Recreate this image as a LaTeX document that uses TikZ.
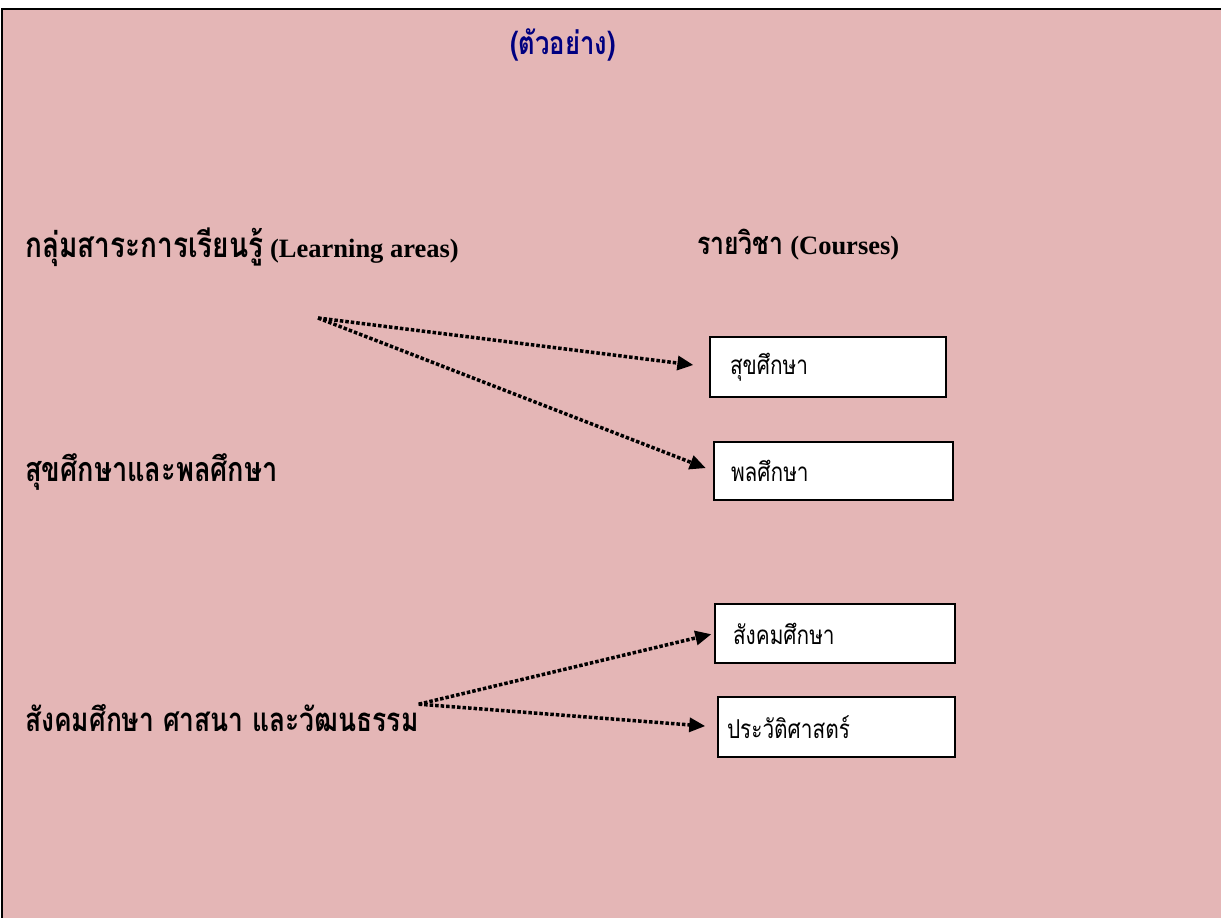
\documentclass[tikz,border=0pt]{standalone}
\usepackage{fontspec}
\setmainfont{Liberation Serif}
\newfontfamily\thaifont[Script=Thai, FakeStretch=0.8]{Loma}
\usetikzlibrary{arrows.meta}
\definecolor{bg_pink}{RGB}{228,182,182}
\definecolor{title_navy}{RGB}{0,0,128}

\begin{document}
\begin{tikzpicture}[x=1pt,y=-1pt,
    area_label/.style={anchor=west, inner sep=0pt, font=\bfseries\fontsize{26.5}{30}\selectfont},
    thai_label/.style={area_label, font=\bfseries\thaifont\fontsize{34}{38}\selectfont},
    course_box/.style={draw=black, line width=1.5pt, fill=white, inner xsep=20pt, align=left, minimum height=60pt, font=\thaifont\fontsize{26}{28}\selectfont},
    dot_arrow/.style={line width=3.5pt, dash pattern=on 3.5pt off 2pt, -{Triangle[length=16pt,width=14pt]}}]
    \useasboundingbox (0,0) rectangle (1221,918);
    % Background and frame
    \fill[white] (0,0) rectangle (1221,918);
    \fill[bg_pink] (2,9) rectangle (1221,918);
    \draw[line width=2.5pt] (2,918) -- (2,9) -- (1221,9);
    % Title
    \node[font=\bfseries\thaifont\fontsize{32}{36}\selectfont, text=title_navy] (title) at (563,45) {(ตัวอย่าง)};
    % Headings
    \node[area_label] (areas) at (25,247) {{\thaifont\fontsize{35}{38}\selectfont กลุ่มสาระการเรียนรู้} (Learning areas)};
    \node[area_label] (courses) at (697,245) {{\thaifont\fontsize{31}{36}\selectfont รายวิชา} (Courses)};
    % Learning areas
    \node[thai_label] (grp1) at (25,472) {สุขศึกษาและพลศึกษา};
    \node[thai_label, font=\bfseries\thaifont\fontsize{33}{38}\selectfont] (grp2) at (25,718) {สังคมศึกษา ศาสนา และวัฒนธรรม};
    % Courses
    \node[course_box, text width=196pt, inner xsep=20pt] (c1) at (828,367) {สุขศึกษา};
    \node[course_box, text width=205pt, inner xsep=17pt, minimum height=58pt] (c2) at (833.5,471) {พลศึกษา};
    \node[course_box, text width=204pt, inner xsep=18pt, minimum height=59pt] (c3) at (835,633.5) {สังคมศึกษา};
    \node[course_box, text width=219pt, inner xsep=9pt] (c4) at (836.5,727) {ประวัติศาสตร์};
    % Arrows
    \coordinate (src) at (318,318);
    \draw[dot_arrow, shorten >=16pt] (src) -- (c1.west);
    \draw[dot_arrow, shorten >=8pt] (src) -- (c2.west);
    \draw[dot_arrow, shorten >=3pt] (grp2.north east) -- (c3.west);
    \draw[dot_arrow, shorten >=12pt] (grp2.north east) -- (c4.west);
\end{tikzpicture}
\end{document}
